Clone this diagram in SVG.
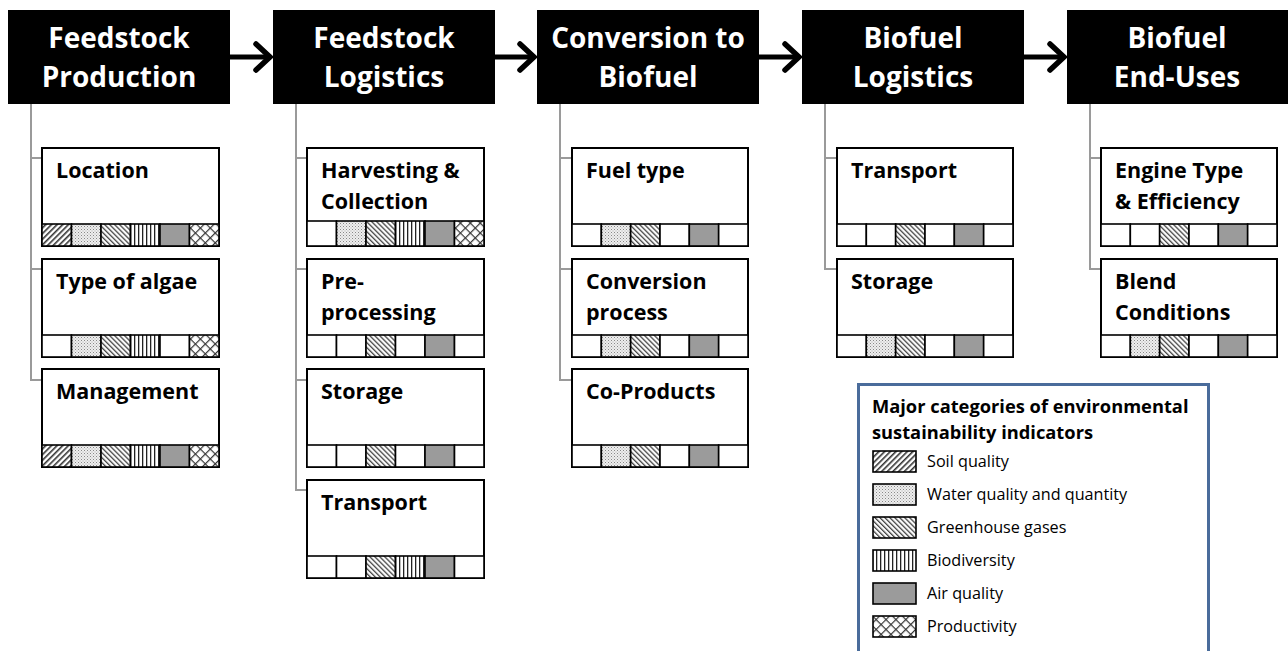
<svg xmlns="http://www.w3.org/2000/svg" width="1288" height="651" viewBox="0 0 1288 651">
<defs>
<pattern id="soil" width="4" height="4" patternUnits="userSpaceOnUse" patternTransform="rotate(45)"><rect width="4" height="4" fill="#fff"/><rect width="1.6" height="4" fill="#333"/></pattern>
<pattern id="water" width="3" height="3" patternUnits="userSpaceOnUse"><rect width="3" height="3" fill="#eee"/><rect width="1" height="1" fill="#888"/><rect x="1.5" y="1.5" width="1" height="1" fill="#aaa"/></pattern>
<pattern id="ghg" width="3.5" height="3.5" patternUnits="userSpaceOnUse" patternTransform="rotate(-45)"><rect width="3.5" height="3.5" fill="#fff"/><rect width="1.3" height="3.5" fill="#444"/></pattern>
<pattern id="bio" width="4" height="4" patternUnits="userSpaceOnUse"><rect width="4" height="4" fill="#fff"/><rect width="1.3" height="4" fill="#222"/></pattern>
<pattern id="prod" width="7" height="7" patternUnits="userSpaceOnUse" patternTransform="rotate(45)"><rect width="7" height="7" fill="#fff"/><rect width="1.2" height="7" fill="#333"/><rect width="7" height="1.2" fill="#333"/></pattern>
<marker id="arr" viewBox="0 0 22 32" refX="19" refY="16" markerWidth="22" markerHeight="32" markerUnits="userSpaceOnUse" orient="auto"><path d="M4 3 L18 16 L4 29" fill="none" stroke="#000" stroke-width="5.5" stroke-linecap="round" stroke-linejoin="miter"/></marker>
</defs>
<style>
.hdr{fill:#000}
.ht{font-family:"Open Sans","Liberation Sans",sans-serif;font-weight:bold;font-size:28px;fill:#fff;text-anchor:middle}
.box{fill:#fff;stroke:#000;stroke-width:2}
.bt{font-family:"Open Sans","Liberation Sans",sans-serif;font-weight:bold;font-size:21.5px;fill:#000}
.cell{stroke:#000;stroke-width:1.6}
.e{fill:#fff}.s{fill:url(#soil)}.w{fill:url(#water)}.g{fill:url(#ghg)}.b{fill:url(#bio)}.a{fill:#9b9b9b}.p{fill:url(#prod)}
.con{fill:none;stroke:#9a9a9a;stroke-width:2}
.arrow{fill:none;stroke:#000;stroke-width:5}
.lt{font-family:"Open Sans","Liberation Sans",sans-serif;font-size:16.2px;fill:#000}
.ltt{font-family:"Open Sans","Liberation Sans",sans-serif;font-weight:bold;font-size:18.3px;fill:#000}
</style>
<rect width="1288" height="651" fill="#fff"/>

<g id="connectors">
<line class="arrow" x1="230" y1="57" x2="271" y2="57" marker-end="url(#arr)"/>
<line class="arrow" x1="495" y1="57" x2="535" y2="57" marker-end="url(#arr)"/>
<line class="arrow" x1="759" y1="57" x2="800" y2="57" marker-end="url(#arr)"/>
<line class="arrow" x1="1024" y1="57" x2="1065" y2="57" marker-end="url(#arr)"/>
<path class="con" d="M31 104 V380 H52 M31 158 H52 M31 269 H52"/>
<path class="con" d="M296 104 V490 H317 M296 158 H317 M296 269 H317 M296 380 H317"/>
<path class="con" d="M560 104 V380 H582 M560 158 H582 M560 269 H582"/>
<path class="con" d="M825 104 V269 H847 M825 158 H847"/>
<path class="con" d="M1090 104 V269 H1111 M1090 158 H1111"/>
</g>

<g id="h1"><rect class="hdr" x="8" y="10" width="222" height="94"/><text class="ht" x="119" y="48">Feedstock</text><text class="ht" x="119" y="87">Production</text></g>
<g id="h2"><rect class="hdr" x="273" y="10" width="222" height="94"/><text class="ht" x="384" y="48">Feedstock</text><text class="ht" x="384" y="87">Logistics</text></g>
<g id="h3"><rect class="hdr" x="537" y="10" width="222" height="94"/><text class="ht" x="648" y="48">Conversion to</text><text class="ht" x="648" y="87">Biofuel</text></g>
<g id="h4"><rect class="hdr" x="802" y="10" width="222" height="94"/><text class="ht" x="913" y="48">Biofuel</text><text class="ht" x="913" y="87">Logistics</text></g>
<g id="h5"><rect class="hdr" x="1067" y="10" width="221" height="94"/><text class="ht" x="1177" y="48">Biofuel</text><text class="ht" x="1177" y="87">End-Uses</text></g>

<!-- column 1 -->
<g id="location" transform="translate(42,148)"><rect class="box" width="177" height="98"/><text class="bt" x="14" y="30">Location</text>
<g class="cell"><rect class="s" x="0" y="76" width="29.5" height="22"/><rect class="w" x="29.5" y="76" width="29.5" height="22"/><rect class="g" x="59" y="76" width="29.5" height="22"/><rect class="b" x="88.5" y="76" width="29.5" height="22"/><rect class="a" x="118" y="76" width="29.5" height="22"/><rect class="p" x="147.5" y="76" width="29.5" height="22"/></g></g>
<g id="algae" transform="translate(42,259)"><rect class="box" width="177" height="98"/><text class="bt" x="14" y="30">Type of algae</text>
<g class="cell"><rect class="e" x="0" y="76" width="29.5" height="22"/><rect class="w" x="29.5" y="76" width="29.5" height="22"/><rect class="g" x="59" y="76" width="29.5" height="22"/><rect class="b" x="88.5" y="76" width="29.5" height="22"/><rect class="e" x="118" y="76" width="29.5" height="22"/><rect class="p" x="147.5" y="76" width="29.5" height="22"/></g></g>
<g id="management" transform="translate(42,369)"><rect class="box" width="177" height="98"/><text class="bt" x="14" y="30">Management</text>
<g class="cell"><rect class="s" x="0" y="76" width="29.5" height="22"/><rect class="w" x="29.5" y="76" width="29.5" height="22"/><rect class="g" x="59" y="76" width="29.5" height="22"/><rect class="b" x="88.5" y="76" width="29.5" height="22"/><rect class="a" x="118" y="76" width="29.5" height="22"/><rect class="p" x="147.5" y="76" width="29.5" height="22"/></g></g>

<!-- column 2 -->
<g id="harvesting" transform="translate(307,148)"><rect class="box" width="177" height="98"/><text class="bt" x="14" y="30">Harvesting &amp;</text><text class="bt" x="14" y="61">Collection</text>
<g class="cell"><rect class="e" x="0" y="73" width="29.5" height="25"/><rect class="w" x="29.5" y="73" width="29.5" height="25"/><rect class="g" x="59" y="73" width="29.5" height="25"/><rect class="b" x="88.5" y="73" width="29.5" height="25"/><rect class="a" x="118" y="73" width="29.5" height="25"/><rect class="p" x="147.5" y="73" width="29.5" height="25"/></g></g>
<g id="preprocessing" transform="translate(307,259)"><rect class="box" width="177" height="98"/><text class="bt" x="14" y="30">Pre-</text><text class="bt" x="14" y="61">processing</text>
<g class="cell"><rect class="e" x="0" y="76" width="29.5" height="22"/><rect class="e" x="29.5" y="76" width="29.5" height="22"/><rect class="g" x="59" y="76" width="29.5" height="22"/><rect class="e" x="88.5" y="76" width="29.5" height="22"/><rect class="a" x="118" y="76" width="29.5" height="22"/><rect class="e" x="147.5" y="76" width="29.5" height="22"/></g></g>
<g id="storage1" transform="translate(307,369)"><rect class="box" width="177" height="98"/><text class="bt" x="14" y="30">Storage</text>
<g class="cell"><rect class="e" x="0" y="76" width="29.5" height="22"/><rect class="e" x="29.5" y="76" width="29.5" height="22"/><rect class="g" x="59" y="76" width="29.5" height="22"/><rect class="e" x="88.5" y="76" width="29.5" height="22"/><rect class="a" x="118" y="76" width="29.5" height="22"/><rect class="e" x="147.5" y="76" width="29.5" height="22"/></g></g>
<g id="transport1" transform="translate(307,480)"><rect class="box" width="177" height="98"/><text class="bt" x="14" y="30">Transport</text>
<g class="cell"><rect class="e" x="0" y="76" width="29.5" height="22"/><rect class="e" x="29.5" y="76" width="29.5" height="22"/><rect class="g" x="59" y="76" width="29.5" height="22"/><rect class="b" x="88.5" y="76" width="29.5" height="22"/><rect class="a" x="118" y="76" width="29.5" height="22"/><rect class="e" x="147.5" y="76" width="29.5" height="22"/></g></g>

<!-- column 3 -->
<g id="fueltype" transform="translate(572,148)"><rect class="box" width="176" height="98"/><text class="bt" x="14" y="30">Fuel type</text>
<g class="cell"><rect class="e" x="0" y="76" width="29.33" height="22"/><rect class="w" x="29.33" y="76" width="29.33" height="22"/><rect class="g" x="58.67" y="76" width="29.33" height="22"/><rect class="e" x="88" y="76" width="29.33" height="22"/><rect class="a" x="117.33" y="76" width="29.33" height="22"/><rect class="e" x="146.67" y="76" width="29.33" height="22"/></g></g>
<g id="conversion" transform="translate(572,259)"><rect class="box" width="176" height="98"/><text class="bt" x="14" y="30">Conversion</text><text class="bt" x="14" y="61">process</text>
<g class="cell"><rect class="e" x="0" y="76" width="29.33" height="22"/><rect class="w" x="29.33" y="76" width="29.33" height="22"/><rect class="g" x="58.67" y="76" width="29.33" height="22"/><rect class="e" x="88" y="76" width="29.33" height="22"/><rect class="a" x="117.33" y="76" width="29.33" height="22"/><rect class="e" x="146.67" y="76" width="29.33" height="22"/></g></g>
<g id="coproducts" transform="translate(572,369)"><rect class="box" width="176" height="98"/><text class="bt" x="14" y="30">Co-Products</text>
<g class="cell"><rect class="e" x="0" y="76" width="29.33" height="22"/><rect class="w" x="29.33" y="76" width="29.33" height="22"/><rect class="g" x="58.67" y="76" width="29.33" height="22"/><rect class="e" x="88" y="76" width="29.33" height="22"/><rect class="a" x="117.33" y="76" width="29.33" height="22"/><rect class="e" x="146.67" y="76" width="29.33" height="22"/></g></g>

<!-- column 4 -->
<g id="transport2" transform="translate(837,148)"><rect class="box" width="176" height="98"/><text class="bt" x="14" y="30">Transport</text>
<g class="cell"><rect class="e" x="0" y="76" width="29.33" height="22"/><rect class="e" x="29.33" y="76" width="29.33" height="22"/><rect class="g" x="58.67" y="76" width="29.33" height="22"/><rect class="e" x="88" y="76" width="29.33" height="22"/><rect class="a" x="117.33" y="76" width="29.33" height="22"/><rect class="e" x="146.67" y="76" width="29.33" height="22"/></g></g>
<g id="storage2" transform="translate(837,259)"><rect class="box" width="176" height="98"/><text class="bt" x="14" y="30">Storage</text>
<g class="cell"><rect class="e" x="0" y="76" width="29.33" height="22"/><rect class="w" x="29.33" y="76" width="29.33" height="22"/><rect class="g" x="58.67" y="76" width="29.33" height="22"/><rect class="e" x="88" y="76" width="29.33" height="22"/><rect class="a" x="117.33" y="76" width="29.33" height="22"/><rect class="e" x="146.67" y="76" width="29.33" height="22"/></g></g>

<!-- column 5 -->
<g id="engine" transform="translate(1101,148)"><rect class="box" width="176" height="98"/><text class="bt" x="14" y="30">Engine Type</text><text class="bt" x="14" y="61">&amp; Efficiency</text>
<g class="cell"><rect class="e" x="0" y="76" width="29.33" height="22"/><rect class="e" x="29.33" y="76" width="29.33" height="22"/><rect class="g" x="58.67" y="76" width="29.33" height="22"/><rect class="e" x="88" y="76" width="29.33" height="22"/><rect class="a" x="117.33" y="76" width="29.33" height="22"/><rect class="e" x="146.67" y="76" width="29.33" height="22"/></g></g>
<g id="blend" transform="translate(1101,259)"><rect class="box" width="176" height="98"/><text class="bt" x="14" y="30">Blend</text><text class="bt" x="14" y="61">Conditions</text>
<g class="cell"><rect class="e" x="0" y="76" width="29.33" height="22"/><rect class="w" x="29.33" y="76" width="29.33" height="22"/><rect class="g" x="58.67" y="76" width="29.33" height="22"/><rect class="e" x="88" y="76" width="29.33" height="22"/><rect class="a" x="117.33" y="76" width="29.33" height="22"/><rect class="e" x="146.67" y="76" width="29.33" height="22"/></g></g>

<!-- legend -->
<g id="legend">
<rect x="858.5" y="384.5" width="350" height="280" fill="#fff" stroke="#4a6c9b" stroke-width="3"/>
<text class="ltt" x="872" y="413">Major categories of environmental</text>
<text class="ltt" x="872" y="439">sustainability indicators</text>
<g class="cell">
<rect class="s" x="873" y="451" width="43" height="21"/>
<rect class="w" x="873" y="484" width="43" height="21"/>
<rect class="g" x="873" y="517" width="43" height="21"/>
<rect class="b" x="873" y="550" width="43" height="21"/>
<rect class="a" x="873" y="583" width="43" height="21"/>
<rect class="p" x="873" y="616" width="43" height="21"/>
</g>
<text class="lt" x="927" y="467">Soil quality</text>
<text class="lt" x="927" y="500">Water quality and quantity</text>
<text class="lt" x="927" y="533">Greenhouse gases</text>
<text class="lt" x="927" y="566">Biodiversity</text>
<text class="lt" x="927" y="599">Air quality</text>
<text class="lt" x="927" y="632">Productivity</text>
</g>
</svg>
